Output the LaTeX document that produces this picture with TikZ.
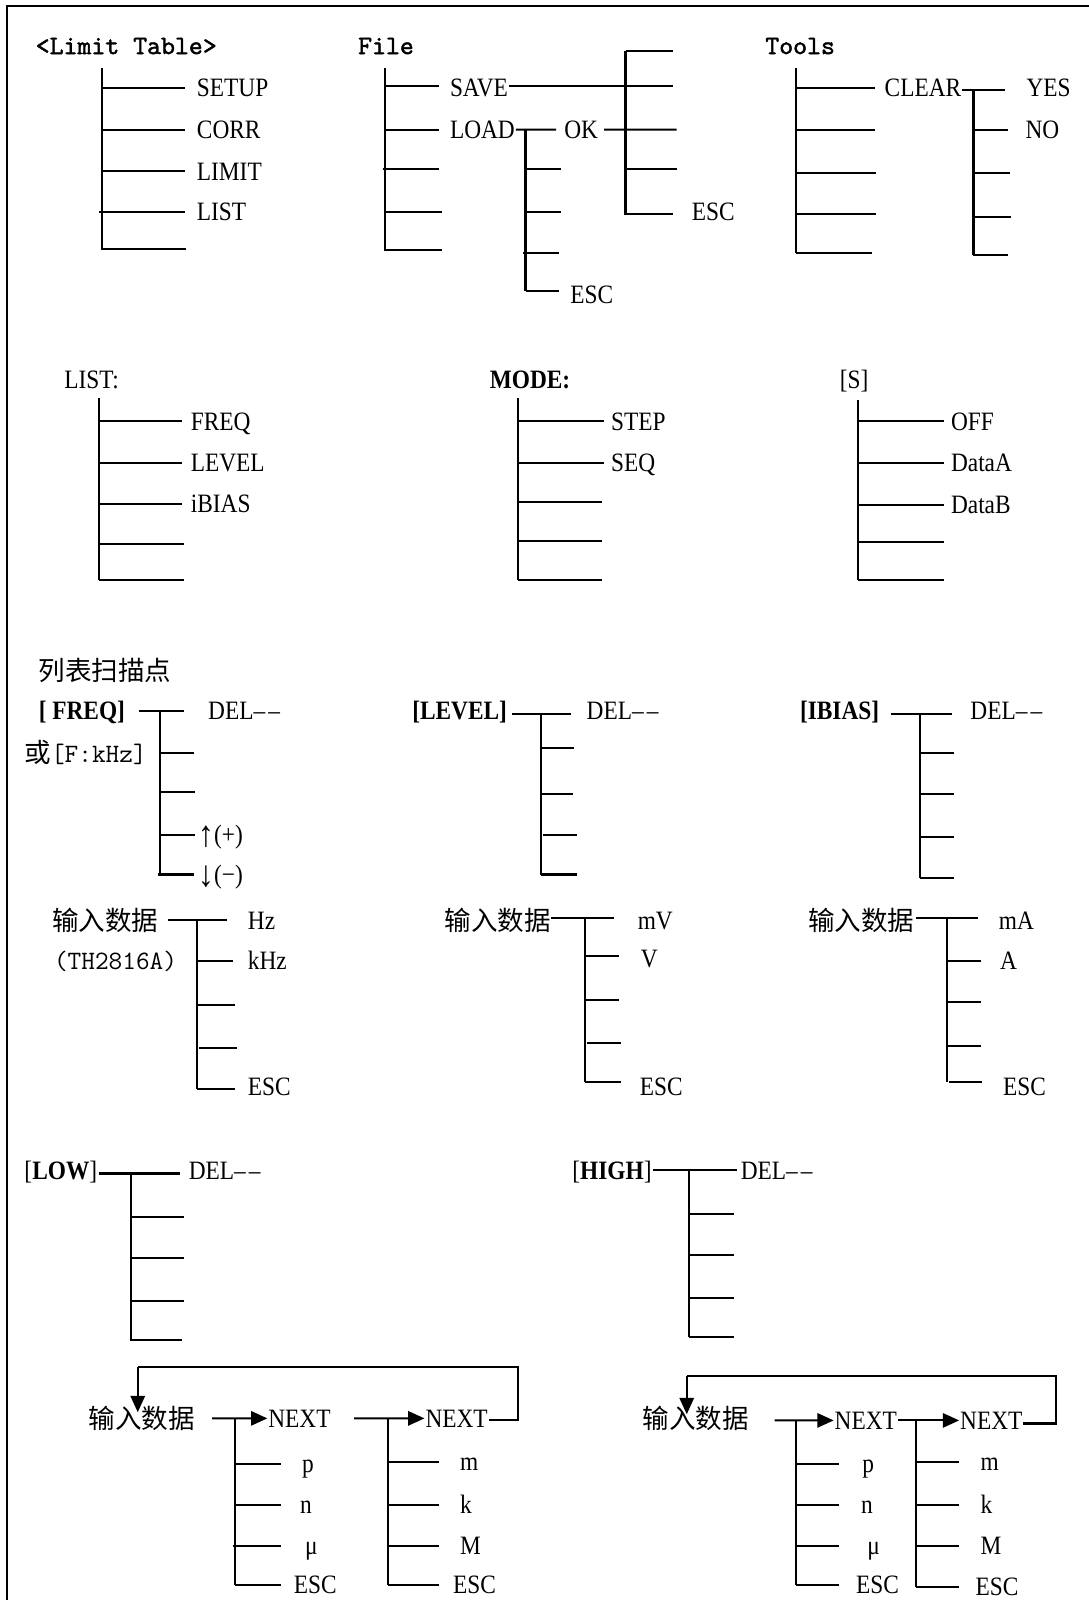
\documentclass[tikz,border=0pt]{standalone}
\usepackage{fontspec}
\setmainfont{Liberation Serif}
\newfontfamily\cond{Liberation Serif}[FakeStretch=0.88]
\newfontfamily\tmono{lmmono10-regular.otf}[FakeBold=1.6]
\newfontfamily\cjk{Noto Sans CJK SC}
\usetikzlibrary{arrows.meta}
\newcommand\hbr[4]{\coordinate (#1a) at (#2,#4);\coordinate (#1b) at (#3,#4);\draw (#1a) -- (#1b);}
\newcommand\vbr[4]{\coordinate (#1a) at (#2,#3);\coordinate (#1b) at (#2,#4);\draw (#1a) -- (#1b);}
\newcommand\deltxt{DEL\textendash\kern3pt\textendash}
\newcommand\bigarr[1]{{\fontsize{36}{36}\selectfont\raisebox{-3pt}{#1}}}
\tikzset{
  lbl/.style={anchor=base west, inner sep=0pt, yshift=-8.5pt, font=\cond\fontsize{26}{28}\selectfont},
  blbl/.style={lbl, font=\cond\bfseries\fontsize{26}{28}\selectfont},
  mlbl/.style={lbl, font=\ttfamily\fontsize{26}{28}\selectfont},
  ttl/.style={anchor=base west, inner sep=0pt, yshift=-8pt, font=\tmono\fontsize{26}{28}\selectfont},
  zh/.style={anchor=base west, inner sep=0pt, yshift=-10pt, font=\cjk\fontsize{26}{28}\selectfont},
  arr/.style={-{Triangle[length=16pt,width=14pt]}},
}
\begin{document}
\begin{tikzpicture}[x=1pt,y=-1pt,line width=2pt]
\useasboundingbox (0,0) rectangle (1067,1568);
\coordinate (fr1) at (7,1568); \coordinate (fr2) at (7,6); \coordinate (fr3) at (1067,6);
\draw[line width=2.4pt] (fr1) -- (fr2) -- (fr3);

% ===== <Limit Table>
\node[ttl] (lt) at (34,45) {<Limit Table>};
\vbr{ltv}{100}{67}{245}
\hbr{lta}{100}{181}{86} \node[lbl] (setup) at (192,86) {SETUP};
\hbr{ltb}{100}{181}{127} \node[lbl] (corr) at (192,127) {CORR};
\hbr{ltc}{100}{181}{168} \node[lbl] (limit) at (192,168) {LIMIT};
\hbr{ltd}{97}{181}{208} \node[lbl] (llist) at (192,208) {LIST};
\hbr{lte}{100}{182}{244}

% ===== File
\node[ttl] (file) at (350,45) {File};
\vbr{fv}{377}{67}{246}
\hbr{fa}{377}{430}{84} \node[lbl] (save) at (440,86) {SAVE};
\hbr{fb}{377}{430}{127} \node[lbl] (load) at (440,127) {LOAD};
\hbr{fc}{375}{430}{166}
\hbr{fd}{377}{433}{208}
\hbr{fe}{377}{433}{245}
\hbr{sv}{499}{660}{84}
\coordinate (okl) at (545,127);
\draw (load.east) -- (okl);
\node[lbl] (ok) at (552,127) {OK};
\coordinate (oke) at (663,127);
\draw ([xshift=5pt]ok.east) -- (oke);
\vbr{fvb}{515}{127}{285}
\hbr{ga}{515}{550}{166}
\hbr{gb}{515}{550}{208}
\hbr{gc}{513}{548}{248}
\hbr{gd}{515}{548}{285}
\node[lbl] (escf1) at (558,289) {ESC};
\vbr{fvc}{613}{50}{211}
\hbr{ha}{613}{660}{50}
\hbr{hb}{613}{663}{166}
\hbr{hc}{613}{660}{210}
\node[lbl] (escf2) at (677,208) {ESC};

% ===== Tools
\node[ttl] (tools) at (749,45) {Tools};
\vbr{tv}{780}{67}{248}
\hbr{ta}{780}{857}{86} \node[lbl] (clear) at (866,86) {CLEAR};
\hbr{tb}{780}{857}{127}
\hbr{tc}{780}{858}{170}
\hbr{td}{780}{858}{210}
\hbr{te}{780}{855}{248}
\coordinate (ce) at (985,88);
\draw (clear.east |- ce) -- (ce);
\vbr{tvb}{954}{88}{250}
\node[lbl] (yes) at (1005,86) {YES};
\hbr{ub}{954}{988}{127} \node[lbl] (no) at (1004,127) {NO};
\hbr{uc}{954}{990}{170}
\hbr{ud}{954}{991}{213}
\hbr{ue}{954}{988}{250}

% ===== LIST:
\node[lbl] (listt) at (62,372) {LIST:};
\vbr{lv}{97}{390}{568}
\hbr{la}{97}{178}{413} \node[lbl] (lfreq) at (186,413) {FREQ};
\hbr{lb}{97}{178}{454} \node[lbl] (llevel) at (186,454) {LEVEL};
\hbr{lc}{97}{178}{494} \node[lbl] (libias) at (186,494) {iBIAS};
\hbr{ld}{97}{180}{533}
\hbr{le}{97}{180}{568}

% ===== MODE:
\node[blbl] (mode) at (479,372) {MODE:};
\vbr{mv}{508}{390}{568}
\hbr{ma}{508}{592}{413} \node[lbl] (mstep) at (598,413) {STEP};
\hbr{mb}{508}{592}{454} \node[lbl] (mseq) at (598,454) {SEQ};
\hbr{mc}{508}{590}{492}
\hbr{md}{508}{590}{530}
\hbr{me}{508}{590}{568}

% ===== [S]
\node[lbl] (stit) at (822,372) {[S]};
\vbr{sv}{841}{392}{568}
\hbr{sa}{841}{925}{413} \node[lbl] (off) at (931,413) {OFF};
\hbr{sb}{841}{925}{454} \node[lbl] (dataa) at (931,454) {DataA};
\hbr{sc}{841}{925}{495} \node[lbl] (datab) at (931,495) {DataB};
\hbr{sd}{841}{925}{531}
\hbr{se}{841}{925}{568}

% ===== [ FREQ]
\node[zh] (lbsm) at (37,657) {列表扫描点};
\node[blbl] (freq) at (37,697) {[ FREQ]};
\hbr{qa}{136}{180}{697}
\vbr{qv}{157}{697}{857}
\node[lbl] (del1) at (203,697) {\deltxt};
\node[zh] (fkhz) at (23,737) {或{\ttfamily\fontsize{26}{28}\selectfont[F:kHz]}};
\hbr{qb}{157}{190}{738}
\hbr{qc}{157}{191}{776}
\hbr{qd}{157}{191}{818}
\hbr{qe}{155}{190}{857}
\node[lbl] (up) at (193,818) {\bigarr{↑}(+)};
\node[lbl] (dn) at (193,857) {\bigarr{↓}(−)};
\node[zh] (in1) at (50,902) {输入数据};
\hbr{ia}{165}{222}{902}
\vbr{iv}{193}{902}{1067}
\node[lbl] (hz) at (242,902) {Hz};
\node[mlbl] (th) at (52,942) {(TH2816A)};
\hbr{ib}{193}{228}{942} \node[lbl] (khz) at (242,942) {kHz};
\hbr{ic}{193}{230}{985}
\hbr{id}{195}{232}{1027}
\hbr{ie}{193}{230}{1067} \node[lbl] (esc3) at (242,1065) {ESC};

% ===== [LEVEL]
\node[blbl] (level) at (403,697) {[LEVEL]};
\hbr{va}{502}{560}{700}
\vbr{vv}{530}{700}{857}
\node[lbl] (del2) at (574,697) {\deltxt};
\hbr{vb}{530}{563}{733}
\hbr{vc}{530}{562}{778}
\hbr{vd}{532}{565}{818}
\hbr{ve}{530}{565}{857}
\node[zh] (in2) at (435,902) {输入数据};
\hbr{wa}{540}{602}{900}
\vbr{wv}{573}{900}{1060}
\node[lbl] (mv) at (624,902) {mV};
\hbr{wb}{573}{607}{937} \node[lbl] (vv) at (627,940) {V};
\hbr{wc}{573}{607}{980}
\hbr{wd}{575}{609}{1022}
\hbr{we}{573}{609}{1060} \node[lbl] (esc4) at (626,1065) {ESC};

% ===== [IBIAS]
\node[blbl] (ibias) at (783,697) {[IBIAS]};
\hbr{xa}{873}{933}{700}
\vbr{xv}{902}{700}{860}
\node[lbl] (del3) at (950,697) {\deltxt};
\hbr{xb}{902}{935}{738}
\hbr{xc}{902}{935}{778}
\hbr{xd}{902}{935}{820}
\hbr{xe}{902}{935}{860}
\node[zh] (in3) at (791,902) {输入数据};
\hbr{ya}{898}{958}{900}
\vbr{yv}{928}{900}{1060}
\node[lbl] (ma) at (978,902) {mA};
\hbr{yb}{928}{961}{942} \node[lbl] (aa) at (979,942) {A};
\hbr{yc}{928}{961}{982}
\hbr{yd}{928}{961}{1025}
\hbr{ye}{930}{962}{1060} \node[lbl] (esc5) at (982,1065) {ESC};

% ===== [LOW]
\node[lbl] (low) at (23,1147) {[\textbf{LOW}]};
\hbr{oa}{97}{176}{1150}
\vbr{ov}{128}{1150}{1313}
\node[lbl] (del4) at (184,1147) {\deltxt};
\hbr{ob}{128}{180}{1193}
\hbr{oc}{128}{180}{1233}
\hbr{od}{128}{180}{1275}
\hbr{oe}{127}{178}{1313}
\node[zh] (in4) at (86,1390) {输入数据};
\node[lbl] (lnext1) at (262,1390) {NEXT};
\coordinate (la1) at (208,1390);
\draw[arr] (la1) -- (lnext1.west);
\vbr{pv}{230}{1390}{1553}
\hbr{pb}{230}{275}{1435} \node[lbl] (lp) at (295,1435) {p};
\hbr{pc}{230}{275}{1475} \node[lbl] (ln) at (293,1475) {n};
\hbr{pd}{228}{275}{1515} \node[lbl] (lmu) at (298,1515) {μ};
\hbr{pe}{230}{275}{1553} \node[lbl] (lesc1) at (287,1553) {ESC};
\node[lbl] (lnext2) at (416,1390) {NEXT};
\coordinate (la2) at (347,1390);
\draw[arr] (la2) -- (lnext2.west);
\vbr{rv}{380}{1390}{1553}
\hbr{rb}{380}{430}{1433} \node[lbl] (lm) at (450,1433) {m};
\hbr{rc}{380}{430}{1475} \node[lbl] (lk) at (450,1475) {k};
\hbr{rd}{380}{430}{1515} \node[lbl] (lM) at (450,1515) {M};
\hbr{re}{380}{430}{1553} \node[lbl] (lesc2) at (443,1553) {ESC};
\coordinate (lr1) at (508,1392); \coordinate (lr2) at (508,1340);
\coordinate (lr3) at (135,1340); \coordinate (lr4) at (135,1384);
\draw (lnext2.east |- lr1) -- (lr1) -- (lr2) -- (lr3);
\draw[arr] (lr3) -- (lr4);

% ===== [HIGH]
\node[lbl] (high) at (560,1147) {[\textbf{HIGH}]};
\hbr{ha0}{640}{722}{1147}
\vbr{hv}{675}{1147}{1310}
\node[lbl] (del5) at (725,1147) {\deltxt};
\hbr{hb0}{675}{719}{1190}
\hbr{hc0}{675}{719}{1230}
\hbr{hd0}{675}{719}{1272}
\hbr{he0}{675}{719}{1310}
\node[zh] (in5) at (629,1390) {输入数据};
\node[lbl] (hnext1) at (817,1392) {NEXT};
\coordinate (ha1) at (759,1392);
\draw[arr] (ha1) -- (hnext1.west);
\vbr{kv}{780}{1392}{1553}
\hbr{kb}{780}{822}{1435} \node[lbl] (hp) at (844,1435) {p};
\hbr{kc}{780}{822}{1475} \node[lbl] (hn) at (843,1475) {n};
\hbr{kd}{780}{822}{1515} \node[lbl] (hmu) at (849,1515) {μ};
\hbr{ke}{780}{822}{1553} \node[lbl] (hesc1) at (838,1553) {ESC};
\node[lbl] (hnext2) at (940,1392) {NEXT};
\draw[arr] (hnext1.east) -- (hnext2.west);
\vbr{jv}{898}{1392}{1555}
\hbr{jb}{898}{940}{1433} \node[lbl] (hm) at (960,1433) {m};
\hbr{jc}{898}{940}{1475} \node[lbl] (hk) at (960,1475) {k};
\hbr{jd}{898}{940}{1515} \node[lbl] (hM) at (960,1515) {M};
\hbr{je}{898}{940}{1555} \node[lbl] (hesc2) at (955,1555) {ESC};
\coordinate (hr1) at (1035,1395); \coordinate (hr2) at (1035,1348);
\coordinate (hr3) at (673,1348); \coordinate (hr4) at (673,1386);
\draw (hnext2.east |- hr1) -- (hr1) -- (hr2) -- (hr3);
\draw[arr] (hr3) -- (hr4);
\end{tikzpicture}
\end{document}
